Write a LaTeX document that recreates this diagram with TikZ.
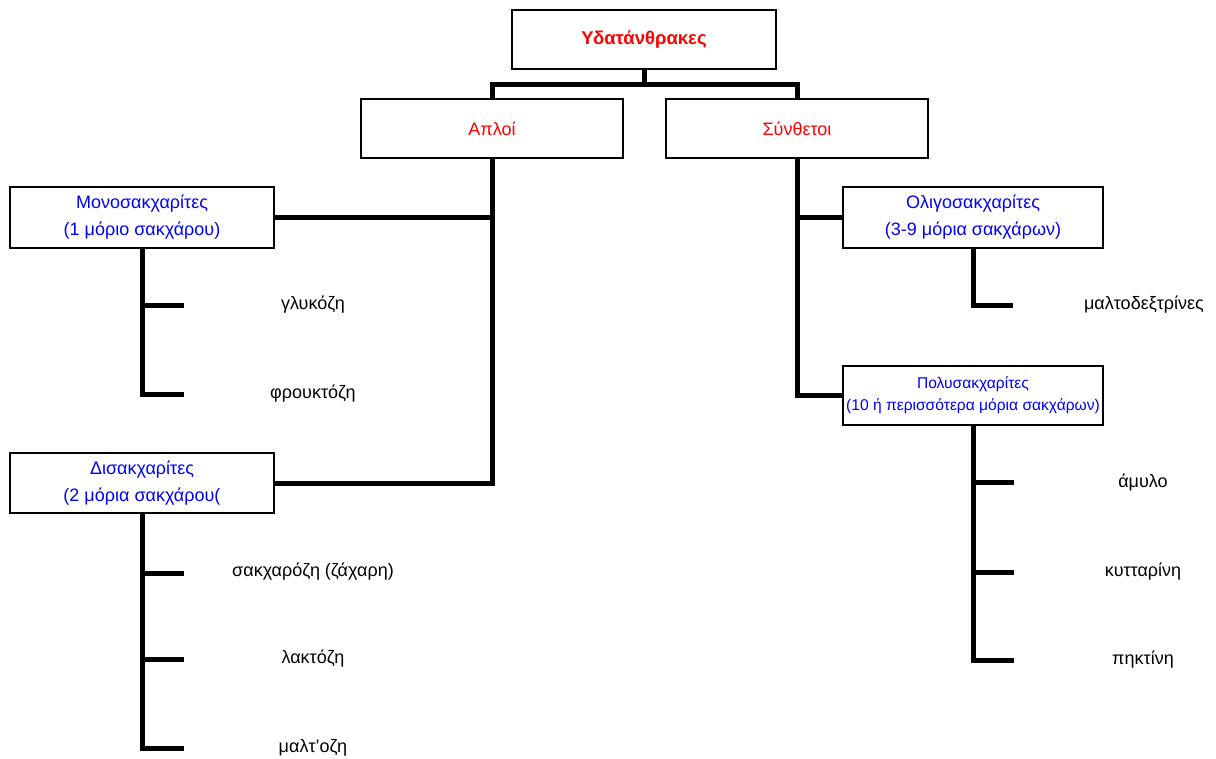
\documentclass[tikz,border=0pt]{standalone}
\usepackage{fontspec}
\setmainfont{Liberation Sans}
\definecolor{tred}{RGB}{255,0,0}
\definecolor{tblue}{RGB}{0,0,255}
\tikzset{
  box/.style={draw=black, line width=1.3pt, fill=white, inner sep=0pt, align=center},
  conn/.style={line width=5pt, line join=miter},
  lbl/.style={font=\fontsize{18}{21}\selectfont, text=black, inner sep=0pt},
  bluet/.style={font=\fontsize{18}{27}\selectfont, text=tblue},
}
\begin{document}
\begin{tikzpicture}[x=1pt,y=-1pt]
\useasboundingbox[fill=white] (0,0) rectangle (1216,758);
% junction / tick coordinates
\coordinate (j0) at (644,84);
\coordinate (tg) at (184,305);
\coordinate (tf) at (184,394);
\coordinate (ts) at (184,573);
\coordinate (tl) at (184,659);
\coordinate (tm) at (184,748);
\coordinate (td) at (1013,305);
\coordinate (ta) at (1014,482);
\coordinate (tc) at (1014,572);
\coordinate (tp) at (1014,660);
% boxes
\node[box, minimum width=264pt, minimum height=59pt, text=tred, font=\fontsize{18.5}{21}\selectfont\bfseries] (root) at (644,39.5) {Υδατάνθρακες};
\node[box, minimum width=262pt, minimum height=59pt, text=tred, font=\fontsize{18}{21}\selectfont] (apli) at (492,128.5) {Απλοί};
\node[box, minimum width=262pt, minimum height=59pt, text=tred, font=\fontsize{18}{21}\selectfont] (synth) at (797,128.5) {Σύνθετοι};
\node[box, bluet, minimum width=264pt, minimum height=61pt] (mono) at (142,217.5) {Μονοσακχαρίτες\\(1 μόριο σακχάρου)};
\node[box, bluet, minimum width=264pt, minimum height=60pt] (disak) at (142,483) {Δισακχαρίτες\\(2 μόρια σακχάρου(};
\node[box, bluet, minimum width=260pt, minimum height=61pt] (oligo) at (973,217.5) {Ολιγοσακχαρίτες\\(3-9 μόρια σακχάρων)};
\node[box, text=tblue, font=\fontsize{15.6}{22}\selectfont, minimum width=260pt, minimum height=59pt] (poly) at (973,395.5) {Πολυσακχαρίτες\\(10 ή περισσότερα μόρια σακχάρων)};
% labels
\node[lbl] (gluc) at (313,305) {γλυκόζη};
\node[lbl] (fruc) at (313,394) {φρουκτόζη};
\node[lbl] (sucr) at (313,572) {σακχαρόζη (ζάχαρη)};
\node[lbl] (lact) at (313,659) {λακτόζη};
\node[lbl] (malt) at (313,748) {μαλτ'οζη};
\node[lbl] (mdex) at (1144,305) {μαλτοδεξτρίνες};
\node[lbl] (amyl) at (1143,482) {άμυλο};
\node[lbl] (cell) at (1143,572) {κυτταρίνη};
\node[lbl] (pect) at (1143,660) {πηκτίνη};
% connectors
\draw[conn] (root.south) -- (j0);
\draw[conn] (apli.north) |- (j0) -| (synth.north);
\draw[conn] (apli.south) |- (disak.east);
\draw[conn] (mono.east) -- (mono.east -| apli.south);
\draw[conn] (mono.south) |- (tf);
\draw[conn] (mono.south |- tg) -- (tg);
\draw[conn] (disak.south) |- (tm);
\draw[conn] (disak.south |- ts) -- (ts);
\draw[conn] (disak.south |- tl) -- (tl);
\draw[conn] (synth.south) |- (poly.west);
\draw[conn] (synth.south |- oligo.west) -- (oligo.west);
\draw[conn] (oligo.south) |- (td);
\draw[conn] (poly.south) |- (tp);
\draw[conn] (poly.south |- ta) -- (ta);
\draw[conn] (poly.south |- tc) -- (tc);
\end{tikzpicture}
\end{document}
